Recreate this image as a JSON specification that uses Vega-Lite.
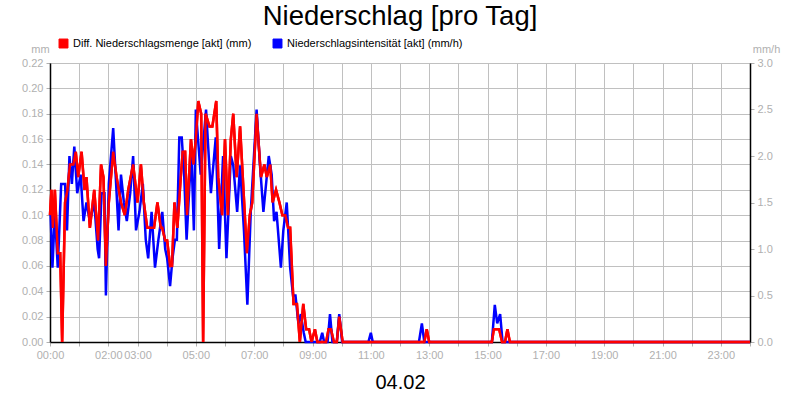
{
  "$schema": "https://vega.github.io/schema/vega-lite/v6.json",
  "width": 700,
  "height": 279,
  "autosize": {"type": "none"},
  "padding": {"left": 50, "top": 63, "right": 50, "bottom": 58},
  "background": "white",
  "title": {
    "text": "Niederschlag [pro Tag]",
    "fontSize": 27.5,
    "fontWeight": "normal",
    "font": "Liberation Sans",
    "color": "black",
    "anchor": "middle",
    "offset": 8
  },
  "datasets": {
    "menge": [
      {"t": 0, "v": 0.10}, {"t": 3, "v": 0.12}, {"t": 6, "v": 0.09}, {"t": 10, "v": 0.12},
      {"t": 16, "v": 0.07}, {"t": 21, "v": 0.07}, {"t": 25, "v": 0}, {"t": 31, "v": 0.11},
      {"t": 36, "v": 0.12}, {"t": 41, "v": 0.14}, {"t": 48, "v": 0.14}, {"t": 53, "v": 0.15},
      {"t": 58, "v": 0.13}, {"t": 65, "v": 0.15}, {"t": 71, "v": 0.12}, {"t": 75, "v": 0.13},
      {"t": 82, "v": 0.09}, {"t": 91, "v": 0.12}, {"t": 99, "v": 0.08}, {"t": 105, "v": 0.14},
      {"t": 110, "v": 0.13}, {"t": 115, "v": 0.06}, {"t": 121, "v": 0.11}, {"t": 130, "v": 0.15},
      {"t": 137, "v": 0.13}, {"t": 146, "v": 0.11}, {"t": 154, "v": 0.10}, {"t": 161, "v": 0.12},
      {"t": 171, "v": 0.14}, {"t": 180, "v": 0.11}, {"t": 187, "v": 0.14}, {"t": 193, "v": 0.11},
      {"t": 200, "v": 0.09}, {"t": 214, "v": 0.09}, {"t": 221, "v": 0.11}, {"t": 228, "v": 0.09},
      {"t": 231, "v": 0.09}, {"t": 237, "v": 0.08}, {"t": 241, "v": 0.08}, {"t": 247, "v": 0.06},
      {"t": 251, "v": 0.06}, {"t": 256, "v": 0.11}, {"t": 262, "v": 0.09}, {"t": 269, "v": 0.13},
      {"t": 273, "v": 0.15}, {"t": 278, "v": 0.15}, {"t": 282, "v": 0.10}, {"t": 290, "v": 0.16},
      {"t": 295, "v": 0.14}, {"t": 300, "v": 0.16}, {"t": 305, "v": 0.19}, {"t": 311, "v": 0.18},
      {"t": 315, "v": 0}, {"t": 320, "v": 0.18}, {"t": 328, "v": 0.17}, {"t": 334, "v": 0.17},
      {"t": 342, "v": 0.19}, {"t": 346, "v": 0.13}, {"t": 354, "v": 0.10}, {"t": 360, "v": 0.16},
      {"t": 366, "v": 0.10}, {"t": 372, "v": 0.16}, {"t": 377, "v": 0.18}, {"t": 384, "v": 0.13},
      {"t": 391, "v": 0.17}, {"t": 398, "v": 0.12}, {"t": 405, "v": 0.07}, {"t": 411, "v": 0.10},
      {"t": 416, "v": 0.11}, {"t": 425, "v": 0.18}, {"t": 434, "v": 0.13}, {"t": 441, "v": 0.14},
      {"t": 446, "v": 0.13}, {"t": 453, "v": 0.14}, {"t": 458, "v": 0.11}, {"t": 465, "v": 0.12},
      {"t": 472, "v": 0.11}, {"t": 478, "v": 0.10}, {"t": 484, "v": 0.10}, {"t": 490, "v": 0.09},
      {"t": 494, "v": 0.09}, {"t": 501, "v": 0.03}, {"t": 508, "v": 0.03}, {"t": 514, "v": 0},
      {"t": 521, "v": 0.03}, {"t": 527, "v": 0.01}, {"t": 533, "v": 0.01}, {"t": 538, "v": 0},
      {"t": 545, "v": 0.01}, {"t": 550, "v": 0}, {"t": 568, "v": 0}, {"t": 573, "v": 0.01},
      {"t": 578, "v": 0.01}, {"t": 584, "v": 0}, {"t": 590, "v": 0}, {"t": 595, "v": 0.02},
      {"t": 602, "v": 0}, {"t": 770, "v": 0}, {"t": 775, "v": 0.01}, {"t": 780, "v": 0},
      {"t": 909, "v": 0}, {"t": 913, "v": 0.01}, {"t": 924, "v": 0.01}, {"t": 930, "v": 0},
      {"t": 936, "v": 0}, {"t": 941, "v": 0.01}, {"t": 946, "v": 0}, {"t": 1440, "v": 0}
    ],
    "intensitaet": [
      {"t": 1, "v": 1.4}, {"t": 5, "v": 0.8}, {"t": 10, "v": 1.4}, {"t": 16, "v": 0.8},
      {"t": 23, "v": 1.7}, {"t": 31, "v": 1.7}, {"t": 35, "v": 1.2}, {"t": 40, "v": 2.0},
      {"t": 45, "v": 1.7}, {"t": 50, "v": 2.1}, {"t": 56, "v": 1.6}, {"t": 63, "v": 1.8},
      {"t": 69, "v": 1.3}, {"t": 75, "v": 1.5}, {"t": 82, "v": 1.3}, {"t": 91, "v": 1.5},
      {"t": 98, "v": 1.0}, {"t": 101, "v": 0.9}, {"t": 106, "v": 1.6}, {"t": 112, "v": 1.6},
      {"t": 115, "v": 0.5}, {"t": 121, "v": 1.7}, {"t": 130, "v": 2.3}, {"t": 141, "v": 1.2},
      {"t": 146, "v": 1.8}, {"t": 152, "v": 1.5}, {"t": 158, "v": 1.3}, {"t": 165, "v": 1.6},
      {"t": 171, "v": 2.0}, {"t": 177, "v": 1.2}, {"t": 184, "v": 1.4}, {"t": 191, "v": 1.7},
      {"t": 197, "v": 1.1}, {"t": 202, "v": 0.9}, {"t": 209, "v": 1.4}, {"t": 216, "v": 0.8},
      {"t": 223, "v": 1.1}, {"t": 231, "v": 1.4}, {"t": 237, "v": 1.0}, {"t": 241, "v": 0.9},
      {"t": 247, "v": 0.6}, {"t": 252, "v": 0.9}, {"t": 257, "v": 1.1}, {"t": 261, "v": 1.1},
      {"t": 266, "v": 2.2}, {"t": 271, "v": 2.2}, {"t": 276, "v": 1.8}, {"t": 281, "v": 1.1},
      {"t": 287, "v": 1.7}, {"t": 291, "v": 2.0}, {"t": 296, "v": 1.2}, {"t": 300, "v": 2.5},
      {"t": 310, "v": 1.8}, {"t": 321, "v": 2.5}, {"t": 331, "v": 1.6}, {"t": 341, "v": 2.2},
      {"t": 348, "v": 1.0}, {"t": 356, "v": 2.0}, {"t": 363, "v": 0.9}, {"t": 372, "v": 2.0},
      {"t": 377, "v": 1.9}, {"t": 385, "v": 1.4}, {"t": 391, "v": 1.9}, {"t": 399, "v": 1.2},
      {"t": 406, "v": 0.4}, {"t": 413, "v": 1.4}, {"t": 425, "v": 2.5}, {"t": 432, "v": 1.9},
      {"t": 439, "v": 1.4}, {"t": 450, "v": 2.0}, {"t": 456, "v": 1.8}, {"t": 461, "v": 1.3},
      {"t": 466, "v": 1.4}, {"t": 475, "v": 0.8}, {"t": 480, "v": 1.2}, {"t": 487, "v": 1.5},
      {"t": 494, "v": 0.8}, {"t": 500, "v": 0.5}, {"t": 505, "v": 0.5}, {"t": 511, "v": 0.2},
      {"t": 516, "v": 0.3}, {"t": 522, "v": 0.1}, {"t": 526, "v": 0}, {"t": 555, "v": 0},
      {"t": 560, "v": 0.1}, {"t": 564, "v": 0}, {"t": 571, "v": 0}, {"t": 576, "v": 0.3},
      {"t": 581, "v": 0}, {"t": 590, "v": 0}, {"t": 595, "v": 0.3}, {"t": 601, "v": 0},
      {"t": 655, "v": 0}, {"t": 660, "v": 0.1}, {"t": 664, "v": 0}, {"t": 759, "v": 0},
      {"t": 765, "v": 0.2}, {"t": 770, "v": 0}, {"t": 909, "v": 0}, {"t": 915, "v": 0.4},
      {"t": 920, "v": 0.2}, {"t": 926, "v": 0.3}, {"t": 931, "v": 0}, {"t": 1440, "v": 0}
    ]
  },
  "encoding": {
    "x": {
      "field": "t",
      "type": "quantitative",
      "scale": {"domain": [0, 1440], "nice": false},
      "axis": {
        "values": [0, 60, 120, 180, 240, 300, 360, 420, 480, 540, 600, 660, 720, 780, 840, 900, 960, 1020, 1080, 1140, 1200, 1260, 1320, 1380, 1440],
        "labelExpr": "indexof([0, 2, 3, 5, 7, 9, 11, 13, 15, 17, 19, 21, 23], datum.value / 60) >= 0 ? ((datum.value < 600 ? '0' : '') + (datum.value / 60) + ':00') : ''",
        "title": "04.02",
        "titleFontSize": 20,
        "titleColor": "black",
        "titlePadding": 12,
        "labelFlush": false,
        "labelOverlap": false
      }
    }
  },
  "layer": [
    {
      "data": {"name": "menge"},
      "mark": {"type": "line", "strokeWidth": 2.5, "interpolate": "linear"},
      "encoding": {
        "y": {
          "field": "v",
          "type": "quantitative",
          "scale": {"domain": [0, 0.22], "nice": false},
          "axis": {
            "orient": "left",
            "values": [0, 0.02, 0.04, 0.06, 0.08, 0.1, 0.12, 0.14, 0.16, 0.18, 0.2, 0.22],
            "format": ".2f",
            "grid": true,
            "title": "mm",
            "titleAngle": 0,
            "titleX": -10,
            "titleY": -14,
            "titleAlign": "center",
            "titleBaseline": "middle"
          }
        },
        "color": {
          "datum": "Diff. Niederschlagsmenge [akt] (mm)",
          "type": "nominal",
          "scale": {
            "domain": ["Diff. Niederschlagsmenge [akt] (mm)", "Niederschlagsintensität [akt] (mm/h)"],
            "range": ["#ff0000", "#0000ff"]
          },
          "legend": {
            "title": null,
            "orient": "none",
            "direction": "horizontal",
            "legendX": 8,
            "legendY": -25,
            "symbolType": "square",
            "symbolSize": 80,
            "symbolStrokeWidth": 1,
            "symbolOpacity": 1,
            "labelFontSize": 11,
            "labelColor": "black",
            "labelFont": "Liberation Sans",
            "labelOffset": 4,
            "columnPadding": 19,
            "labelLimit": 300,
            "encode": {
              "symbols": {
                "update": {
                  "fill": {"scale": "color", "field": "value"},
                  "stroke": {"value": "black"},
                  "strokeWidth": {"value": 1}
                }
              }
            }
          }
        }
      }
    },
    {
      "data": {"name": "intensitaet"},
      "mark": {"type": "line", "strokeWidth": 2.5, "interpolate": "linear"},
      "encoding": {
        "y": {
          "field": "v",
          "type": "quantitative",
          "scale": {"domain": [0, 3], "nice": false},
          "axis": {
            "orient": "right",
            "values": [0, 0.5, 1, 1.5, 2, 2.5, 3],
            "format": ".1f",
            "grid": false,
            "title": "mm/h",
            "titleAngle": 0,
            "titleX": 16,
            "titleY": -14,
            "titleAlign": "center",
            "titleBaseline": "middle"
          }
        },
        "color": {"datum": "Niederschlagsintensität [akt] (mm/h)", "type": "nominal"}
      }
    },
    {
      "data": {"name": "menge"},
      "mark": {"type": "line", "strokeWidth": 2.5, "interpolate": "linear"},
      "encoding": {
        "y": {
          "field": "v",
          "type": "quantitative",
          "scale": {"domain": [0, 0.22], "nice": false},
          "axis": null
        },
        "color": {"datum": "Diff. Niederschlagsmenge [akt] (mm)", "type": "nominal"}
      }
    }
  ],
  "resolve": {"scale": {"y": "independent"}},
  "config": {
    "font": "Liberation Sans",
    "view": {"stroke": "black", "strokeWidth": 1},
    "axis": {
      "labelColor": "#b0b0b0",
      "labelFont": "Liberation Sans",
      "labelFontSize": 11,
      "labelPadding": 3,
      "tickColor": "#b0b0b0",
      "tickSize": 4,
      "gridColor": "#c0c0c0",
      "gridWidth": 1,
      "domainColor": "black",
      "domainWidth": 1.5,
      "titleFont": "Liberation Sans",
      "titleFontWeight": "normal",
      "titleFontSize": 11,
      "titleColor": "#b0b0b0"
    }
  }
}
